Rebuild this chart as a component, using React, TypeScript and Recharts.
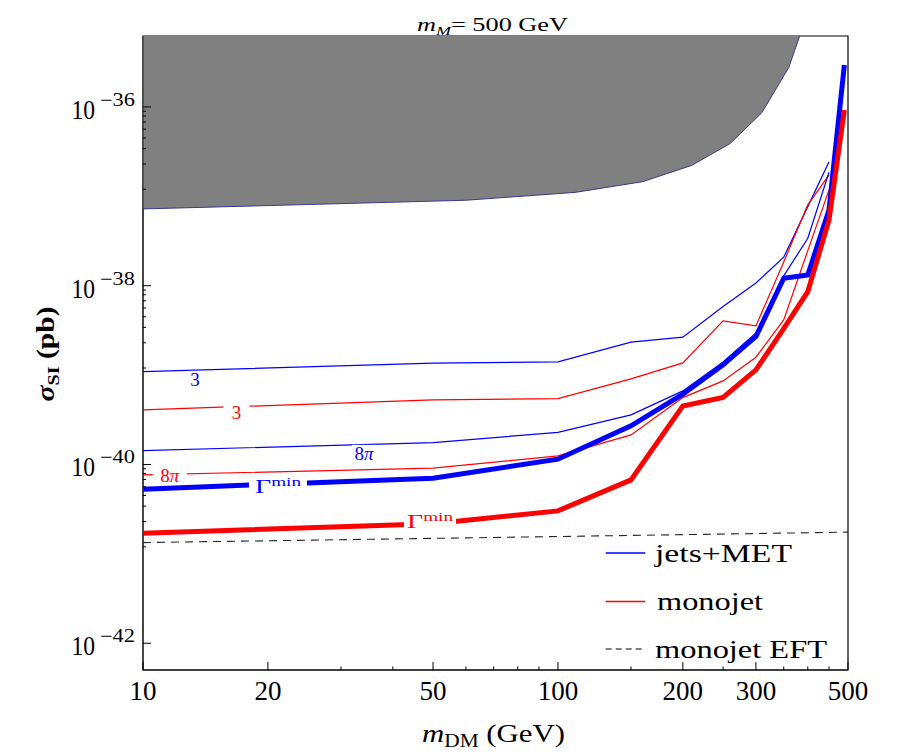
import React from 'react';
import {
  ComposedChart,
  Line,
  Area,
  XAxis,
  YAxis,
  ReferenceArea,
  ReferenceDot,
  Legend,
  Label,
} from 'recharts';

// ---------- data (m_DM in GeV, sigma_SI in pb) ----------
const massesExcl = [10, 60, 110, 160, 210, 260, 310, 360, 410];
const massesThin = [10, 50, 100, 150, 200, 250, 300, 350, 400, 450];
const massesThick = [10, 50, 100, 150, 200, 250, 300, 350, 400, 450, 490];
const massesEFT = [10, 100, 500];

const exclusionBound = [7.23e-38, 9.04e-38, 1.107e-37, 1.459e-37, 2.218e-37, 3.9e-37, 8.63e-37, 2.767e-36, 1.585e-35];
const jetsMet3 = [1.094e-39, 1.358e-39, 1.406e-39, 2.333e-39, 2.655e-39, 5.86e-39, 1.074e-38, 2.084e-38, 7.67e-38, 2.443e-37];
const monojet3 = [4.083e-40, 5.284e-40, 5.458e-40, 9.06e-40, 1.368e-39, 4.036e-39, 3.548e-39, 1.845e-38, 8.017e-38, 1.734e-37];
const jetsMet8pi = [1.429e-40, 1.758e-40, 2.286e-40, 3.589e-40, 6.653e-40, 1.406e-39, 2.965e-39, 1.288e-38, 3.396e-38, 1.862e-37];
const monojet8pi = [7.656e-41, 9.1e-41, 1.247e-40, 2.143e-40, 5.598e-40, 8.61e-40, 1.585e-39, 4.14e-39, 2.472e-38, 1.18e-37];
const jetsMetMin = [5.297e-41, 7.031e-41, 1.146e-40, 2.704e-40, 6.109e-40, 1.3e-39, 2.698e-39, 1.213e-38, 1.321e-38, 7.047e-38, 2.951e-36];
const monojetMin = [1.706e-41, 2.168e-41, 3.027e-41, 6.73e-41, 4.519e-40, 5.623e-40, 1.143e-39, 3.311e-39, 8.59e-39, 5.445e-38, 9.247e-37];
const monojetEFT = [1.337e-41, 1.563e-41, 1.75e-41];

// curve labels
const labelMasses = [13.34, 16.8, 34.08, 11.6, 21.15, 49.16];
const labelSigmas = [9.06e-40, 3.873e-40, 1.349e-40, 7.586e-41, 5.768e-41, 2.339e-41];
const labelTexts = ['3', '3', '8π', '8π', 'Γmin', 'Γmin'];

// axes
const xDomain = [10, 500];
const yDomain = [5.02e-43, 6.22e-36];
const xTicks = [10, 20, 30, 40, 50, 60, 70, 80, 90, 100, 150, 200, 250, 300, 350, 400, 450, 500];
const xLabeled = [10, 20, 50, 100, 200, 300, 500];
const yMajorTicks = [1e-36, 1e-38, 1e-40, 1e-42];
const yMinorTicks = [
  8.95e-37, 7.93e-37, 6.79e-37, 5.64e-37, 4.5e-37, 3.42e-37, 2.3e-37, 1.2e-37,
  8.95e-39, 7.93e-39, 6.79e-39, 5.64e-39, 4.5e-39, 3.42e-39, 2.3e-39, 1.2e-39,
  8.95e-41, 7.93e-41, 6.79e-41, 5.64e-41, 4.5e-41, 3.42e-41, 2.3e-41, 1.2e-41,
];
const legendLabels = ['jets+MET', 'monojet', 'monojet EFT'];

const toSeries = (ms: number[], vs: number[]) => ms.map((m, i) => ({ m, v: vs[i] }));

const exclData = toSeries(massesExcl, exclusionBound);
const j3Data = toSeries(massesThin, jetsMet3);
const m3Data = toSeries(massesThin, monojet3);
const j8Data = toSeries(massesThin, jetsMet8pi);
const m8Data = toSeries(massesThin, monojet8pi);
const jMinData = toSeries(massesThick, jetsMetMin);
const mMinData = toSeries(massesThick, monojetMin);
const eftData = toSeries(massesEFT, monojetEFT);

const SERIF = "'Liberation Serif', 'Times New Roman', serif";
const BLUE = '#0000ff';
const RED = '#ff0000';

const XTick = (props: any) => {
  const { x, y, payload } = props;
  const v = payload.value;
  const major = xLabeled.includes(v);
  return (
    <g>
      <line x1={x} x2={x} y1={y} y2={y - (major ? 8 : 3.5)} stroke="#000" strokeWidth={1} />
      {major && (
        <text x={x} y={y + 30} textAnchor="middle" fontFamily={SERIF} fontSize={27} fill="#000">
          {v}
        </text>
      )}
    </g>
  );
};

const YTick = (props: any) => {
  const { x, y, payload } = props;
  const v = payload.value;
  const lg = Math.log10(v);
  const e = Math.round(lg);
  const major = Math.abs(lg - e) < 1e-6;
  return (
    <g>
      <line x1={x} x2={x + (major ? 8 : 3)} y1={y} y2={y} stroke="#000" strokeWidth={1} />
      {major && (
        <g>
          <text x={x - 71.5} y={y + 12} fontFamily={SERIF} fontSize={28} fill="#000" textLength={23.5} lengthAdjust="spacingAndGlyphs">
            10
          </text>
          <text x={x - 43} y={y - 1} fontFamily={SERIF} fontSize={18} fill="#000" textLength={35} lengthAdjust="spacingAndGlyphs">
            {'\u2212' + Math.abs(e)}
          </text>
        </g>
      )}
    </g>
  );
};

const XTitle = (props: any) => {
  const vb = props.viewBox;
  const cx = vb.x + vb.width / 2 - 2;
  return (
    <text x={cx} y={742} textAnchor="middle" fontFamily={SERIF} fontSize={26} fill="#000" textLength={143} lengthAdjust="spacingAndGlyphs">
      <tspan fontStyle="italic">m</tspan>
      <tspan fontSize={18} dy={5}>DM</tspan>
      <tspan dy={-5}> (GeV)</tspan>
    </text>
  );
};

const YTitle = (props: any) => {
  const vb = props.viewBox;
  const cy = vb.y + vb.height / 2 + 1;
  return (
    <text
      transform={`translate(54, ${cy}) rotate(-90)`}
      x={0}
      y={0}
      textAnchor="middle"
      fontFamily={SERIF}
      fontWeight="bold"
      fontSize={25}
      fill="#000"
      textLength={95}
      lengthAdjust="spacingAndGlyphs"
    >
      <tspan fontStyle="italic">σ</tspan>
      <tspan fontSize={17} dy={5}>SI</tspan>
      <tspan dy={-5}> (pb)</tspan>
    </text>
  );
};

const Title = (props: any) => {
  const vb = props.viewBox;
  const cx = vb.x + vb.width / 2 - 3;
  return (
    <text x={cx} y={30.5} textAnchor="middle" fontFamily={SERIF} fontSize={19} fill="#000" textLength={151} lengthAdjust="spacingAndGlyphs">
      <tspan fontStyle="italic">m</tspan>
      <tspan fontStyle="italic" fontSize={13} dy={4}>M</tspan>
      <tspan dy={-4}>= 500 GeV</tspan>
    </text>
  );
};

const labelStyles = [
  { color: BLUE, bgW: 14 },
  { color: RED, bgW: 26 },
  { color: BLUE, bgW: 24 },
  { color: RED, bgW: 34 },
  { color: BLUE, bgW: 58 },
  { color: RED, bgW: 52 },
];

const renderCurveLabel = (idx: number) => (props: any) => {
  const { cx, cy } = props;
  const txt = labelTexts[idx];
  const st = labelStyles[idx];
  let content: any = txt;
  if (txt === '8π') {
    content = (
      <>
        <tspan>8</tspan>
        <tspan fontStyle="italic">π</tspan>
      </>
    );
  } else if (txt === 'Γmin') {
    content = (
      <>
        <tspan>Γ</tspan>
        <tspan fontSize={13} dy={-7}>min</tspan>
      </>
    );
  }
  return (
    <g>
      <rect x={cx - st.bgW / 2} y={cy - 8} width={st.bgW} height={16} fill="#fff" />
      <text
        x={cx}
        y={cy + 7}
        textAnchor="middle"
        fontFamily={SERIF}
        fontSize={19}
        fill={st.color}
        {...(txt === 'Γmin' ? { textLength: 46, lengthAdjust: 'spacingAndGlyphs' } : {})}
      >
        {content}
      </text>
    </g>
  );
};

const LEG_X = 595;
const LEG_Y = 530;

const LegendContent = () => {
  const rows = [
    { color: BLUE, dash: undefined as any, lineY: 23, textY: 31.5, tx: 60, len: 137 },
    { color: RED, dash: undefined as any, lineY: 71.5, textY: 80, tx: 62, len: 106 },
    { color: '#555', dash: '6 4', lineY: 119, textY: 127.5, tx: 60, len: 172 },
  ];
  return (
    <svg width={260} height={140} style={{ display: 'block' }}>
      {rows.map((r, i) => (
        <g key={i}>
          <line x1={10.7} x2={50.3} y1={r.lineY} y2={r.lineY} stroke={r.color} strokeWidth={1.5} strokeDasharray={r.dash} />
          <text x={r.tx} y={r.textY} fontFamily={SERIF} fontSize={26} fill="#000" textLength={r.len} lengthAdjust="spacingAndGlyphs">
            {legendLabels[i]}
          </text>
        </g>
      ))}
    </svg>
  );
};

export default function App() {
  return (
    <div style={{ position: 'absolute', left: 0, top: 0, background: '#fff' }}>
      <ComposedChart width={913} height={753} margin={{ top: 36, right: 65, bottom: 43, left: 83 }}>
        <ReferenceArea x1={xDomain[0]} x2={xDomain[1]} y1={yDomain[0]} y2={yDomain[1]} fill="none" stroke="#000" strokeWidth={1.2} ifOverflow="visible">
          <Label content={Title} />
        </ReferenceArea>
        <Area
          data={exclData}
          dataKey="v"
          type="linear"
          baseValue="dataMax"
          stroke="#3a3a90"
          strokeWidth={1}
          fill="#808080"
          fillOpacity={1}
          dot={false}
          activeDot={false}
          isAnimationActive={false}
        />
        <Line data={j3Data} dataKey="v" type="linear" stroke={BLUE} strokeWidth={1.2} dot={false} activeDot={false} isAnimationActive={false} />
        <Line data={m3Data} dataKey="v" type="linear" stroke={RED} strokeWidth={1.2} dot={false} activeDot={false} isAnimationActive={false} />
        <Line data={j8Data} dataKey="v" type="linear" stroke={BLUE} strokeWidth={1.2} dot={false} activeDot={false} isAnimationActive={false} />
        <Line data={m8Data} dataKey="v" type="linear" stroke={RED} strokeWidth={1.2} dot={false} activeDot={false} isAnimationActive={false} />
        <Line data={jMinData} dataKey="v" type="linear" stroke={BLUE} strokeWidth={5} dot={false} activeDot={false} isAnimationActive={false} />
        <Line data={mMinData} dataKey="v" type="linear" stroke={RED} strokeWidth={5} dot={false} activeDot={false} isAnimationActive={false} />
        <Line data={eftData} dataKey="v" type="linear" stroke="#222" strokeWidth={1.1} strokeDasharray="8 6" dot={false} activeDot={false} isAnimationActive={false} />
        {labelTexts.map((t, i) => (
          <ReferenceDot key={i} x={labelMasses[i]} y={labelSigmas[i]} r={0} shape={renderCurveLabel(i)} />
        ))}
        <XAxis
          dataKey="m"
          type="number"
          scale="log"
          domain={xDomain}
          allowDataOverflow
          ticks={xTicks}
          interval={0}
          tickLine={false}
          tickSize={0}
          tickMargin={0}
          tick={<XTick />}
          axisLine={{ stroke: '#000', strokeWidth: 1.2 }}
          height={40}
        >
          <Label content={XTitle} />
        </XAxis>
        <YAxis
          type="number"
          scale="log"
          domain={yDomain}
          allowDataOverflow
          ticks={[...yMajorTicks, ...yMinorTicks]}
          interval={0}
          tickLine={false}
          tickSize={0}
          tickMargin={0}
          tick={<YTick />}
          axisLine={{ stroke: '#333', strokeWidth: 1.2 }}
          width={60}
        >
          <Label content={YTitle} />
        </YAxis>
        <Legend
          layout="horizontal"
          verticalAlign="middle"
          align="center"
          wrapperStyle={{ left: LEG_X, top: LEG_Y, width: 260, height: 140 }}
          content={LegendContent}
        />
      </ComposedChart>
    </div>
  );
}
